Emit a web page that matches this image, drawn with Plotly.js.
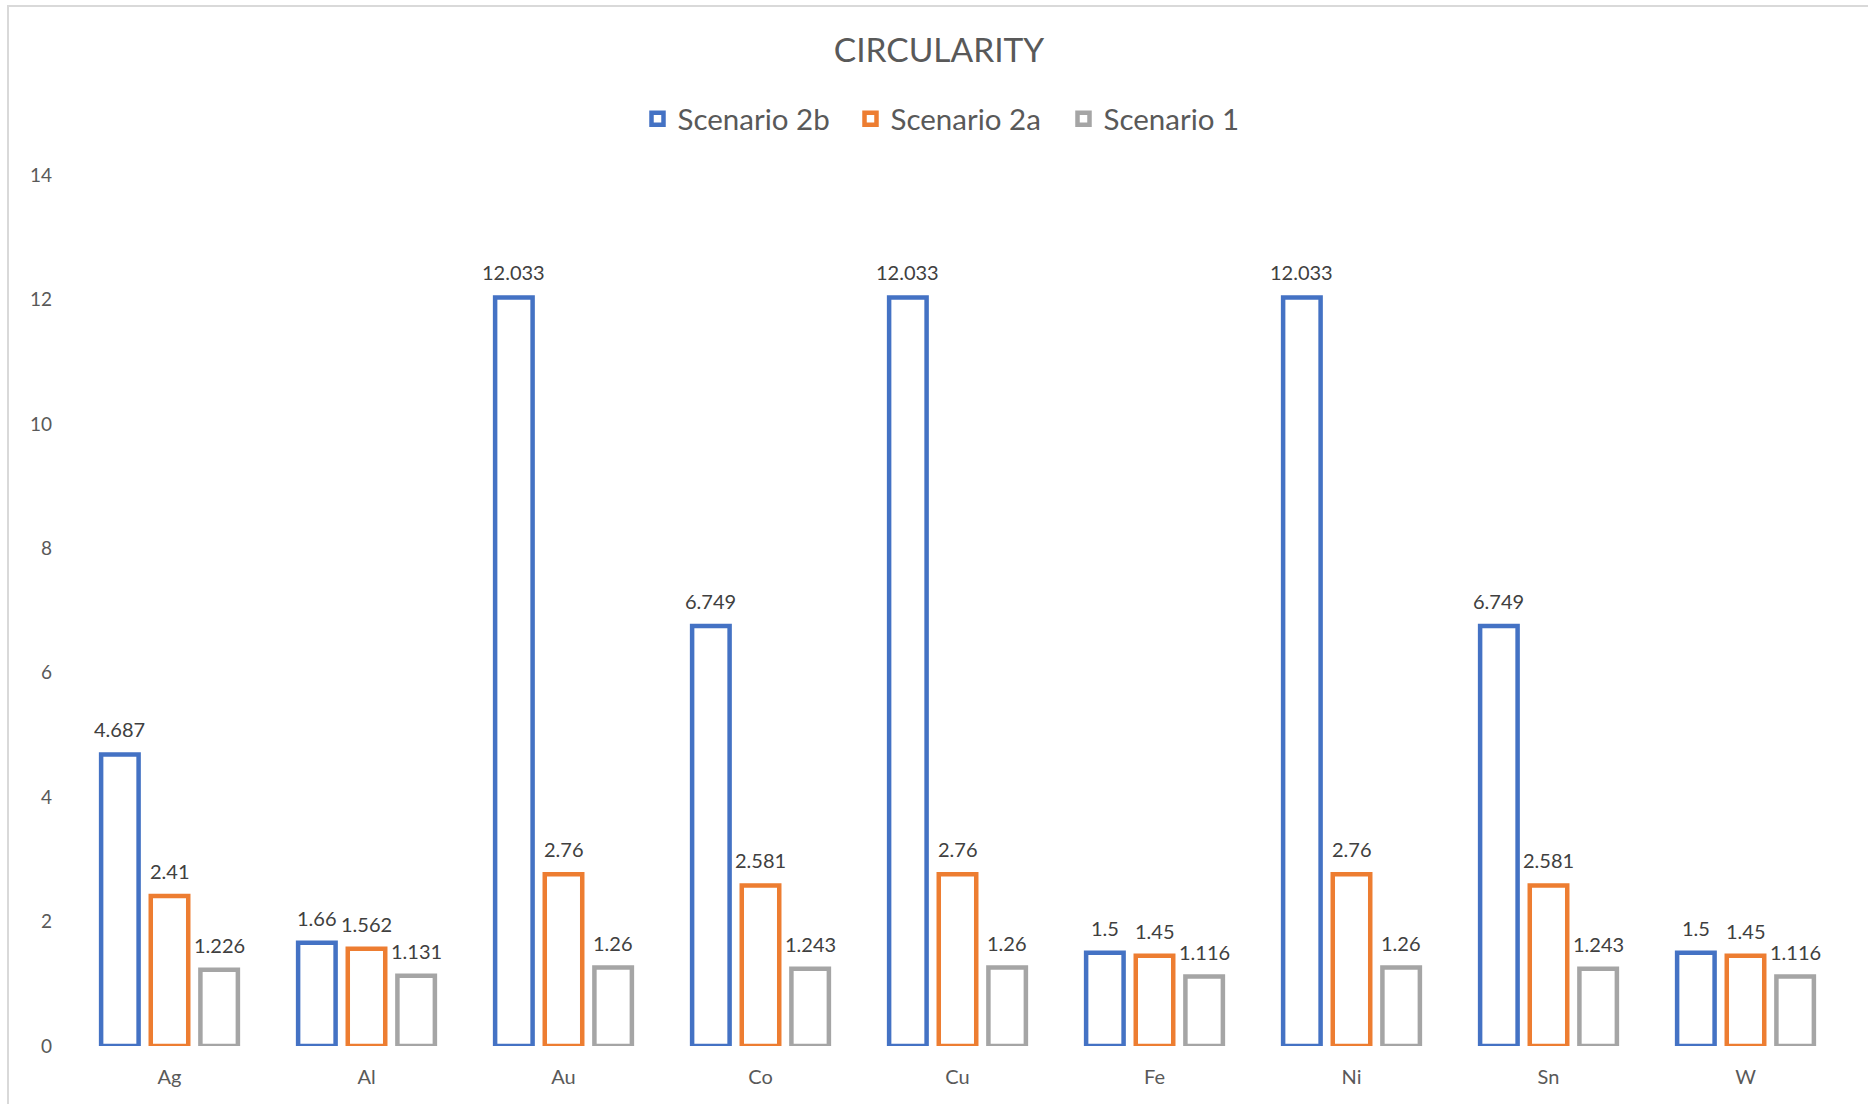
<!DOCTYPE html>
<html>
<head>
<meta charset="utf-8">
<script src="https://cdn.plot.ly/plotly-3.0.1.min.js"></script>
<style>
  html, body { margin: 0; padding: 0; background: #ffffff; }
  #frame { position: absolute; left: 7px; top: 5px; width: 1880px; height: 1120px;
           border-left: 2px solid #d9d9d9; border-top: 2px solid #d9d9d9; box-sizing: border-box; }
  #chart { position: absolute; left: 0; top: 0; width: 1868px; height: 1104px; }
</style>
</head>
<body>
<div id="frame"></div>
<div id="chart"></div>
<script>
// Metals on the category axis
const metals = ['Ag', 'Al', 'Au', 'Co', 'Cu', 'Fe', 'Ni', 'Sn', 'W'];

// Circularity per scenario
const scenario2b = [4.687, 1.66, 12.033, 6.749, 12.033, 1.5, 12.033, 6.749, 1.5];
const scenario2a = [2.41, 1.562, 2.76, 2.581, 2.76, 1.45, 2.76, 2.581, 1.45];
const scenario1  = [1.226, 1.131, 1.26, 1.243, 1.26, 1.116, 1.26, 1.243, 1.116];

const seriesNames = ['Scenario 2b', 'Scenario 2a', 'Scenario 1'];
const seriesColors = ['#4472C4', '#ED7D31', '#A5A5A5'];
const seriesValues = [scenario2b, scenario2a, scenario1];

const FONT = 'Lato, "Open Sans", sans-serif';

const W = 1868, H = 1104;
const margin = { l: 71, r: 24, t: 175, b: 58, pad: 0 };
const BARGAP = 0.244, BARGROUPGAP = 0.245;

const traces = seriesValues.map((vals, i) => ({
  type: 'bar',
  name: seriesNames[i],
  x: metals,
  y: vals,
  marker: { color: '#ffffff', line: { color: seriesColors[i], width: 4.5 } },
  hoverinfo: 'x+y+name'
}));

// Value labels above each bar, shifted sideways to the bar's slot in its group
const plotWidth = W - margin.l - margin.r;
const slotWidth = plotWidth / metals.length * (1 - BARGAP) / seriesValues.length;
const labels = [];
seriesValues.forEach((vals, i) => {
  const offset = (i - (seriesValues.length - 1) / 2) * slotWidth;
  vals.forEach((v, j) => {
    labels.push({
      x: metals[j], y: v, xref: 'x', yref: 'y',
      text: String(v), showarrow: false,
      xanchor: 'center', yanchor: 'middle',
      xshift: offset, yshift: 25,
      font: { family: FONT, size: 20, color: '#404040' }
    });
  });
});

const layout = {
  width: W,
  height: H,
  paper_bgcolor: 'rgba(0,0,0,0)',
  plot_bgcolor: 'rgba(0,0,0,0)',
  margin: margin,
  font: { family: FONT, color: '#595959' },
  title: {
    text: 'CIRCULARITY',
    font: { family: FONT, size: 33.5, color: '#595959' },
    x: 939 / W, xref: 'container', xanchor: 'center',
    y: 1 - 50 / H, yref: 'container', yanchor: 'middle'
  },
  showlegend: true,
  legend: {
    orientation: 'h',
    xref: 'container', x: 957 / W, xanchor: 'center',
    yref: 'container', y: 1 - 119 / H, yanchor: 'middle',
    font: { family: FONT, size: 29.5, color: '#595959' },
    entrywidth: 168,
    itemclick: false, itemdoubleclick: false,
    traceorder: 'normal'
  },
  annotations: labels,
  barmode: 'group',
  bargap: BARGAP,
  bargroupgap: BARGROUPGAP,
  xaxis: {
    type: 'category',
    showgrid: false,
    showline: false,
    zeroline: false,
    ticks: '',
    ticklabelstandoff: 17,
    tickfont: { family: FONT, size: 20, color: '#595959' }
  },
  yaxis: {
    range: [0, 14],
    dtick: 2,
    tick0: 0,
    showgrid: false,
    zeroline: false,
    showline: false,
    ticks: '',
    ticklabelstandoff: 18,
    tickfont: { family: FONT, size: 19, color: '#595959' }
  }
};

Plotly.newPlot('chart', traces, layout, { displayModeBar: false });
</script>
</body>
</html>
